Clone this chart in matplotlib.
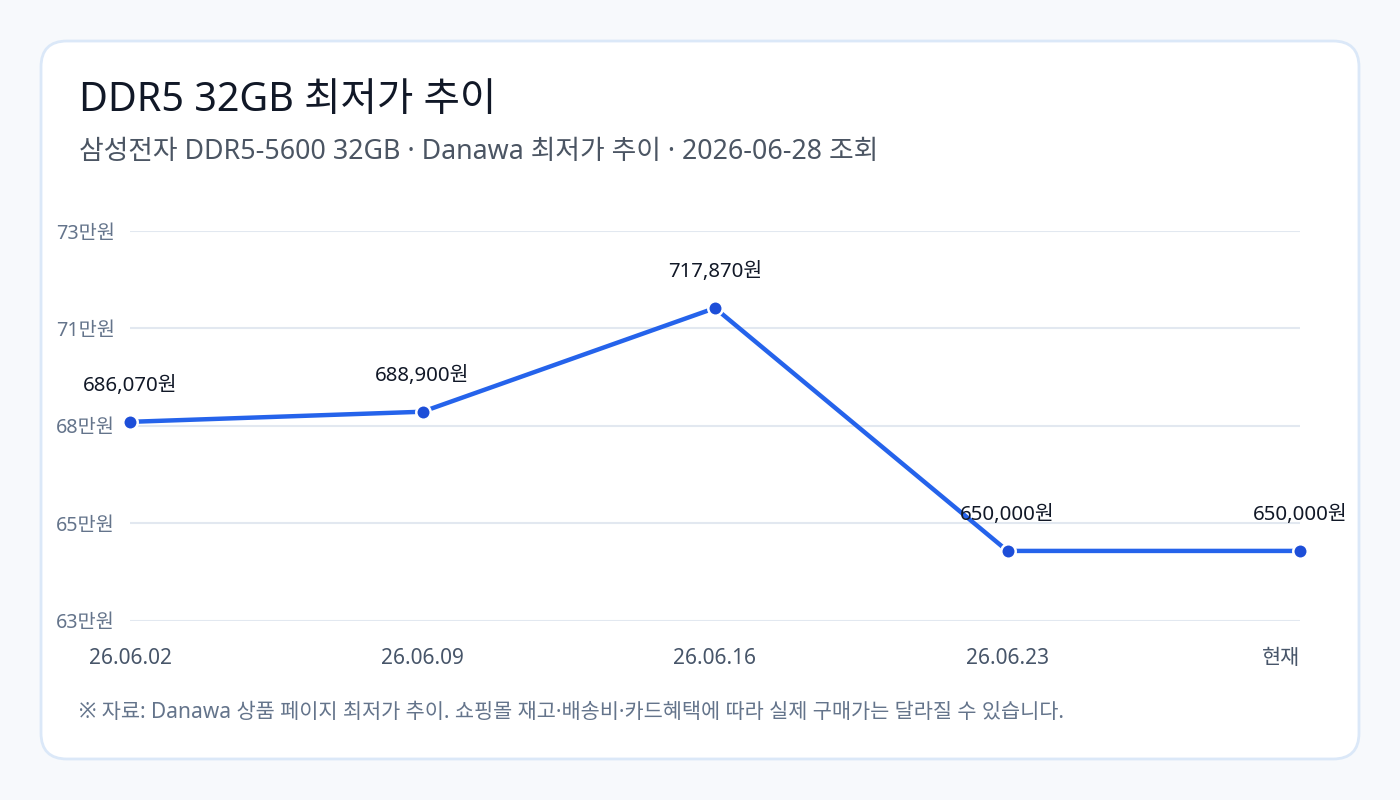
import numpy as np
import matplotlib
matplotlib.use("Agg")
import matplotlib.pyplot as plt
from matplotlib.patches import FancyBboxPatch

plt.rcParams['font.family'] = ['Noto Sans', 'Noto Sans CJK KR', 'DejaVu Sans']

# ---- data ----
dates = ["26.06.02", "26.06.09", "26.06.16", "26.06.23", "현재"]
prices = [686070, 688900, 717870, 650000, 650000]
title = "DDR5 32GB 최저가 추이"
subtitle = "삼성전자 DDR5-5600 32GB · Danawa 최저가 추이 · 2026-06-28 조회"
footnote = "※ 자료: Danawa 상품 페이지 최저가 추이. 쇼핑몰 재고·배송비·카드혜택에 따라 실제 구매가는 달라질 수 있습니다."

W, H = 1400, 800
fig = plt.figure(figsize=(W / 100, H / 100), dpi=100)
fig.patch.set_facecolor("#f7f9fc")

# background card in pixel coordinates
bg = fig.add_axes([0, 0, 1, 1], zorder=0)
bg.set_xlim(0, W)
bg.set_ylim(H, 0)
bg.axis("off")
card = FancyBboxPatch((41, 41), 1318, 718, boxstyle="round,pad=0,rounding_size=26",
                      facecolor="white", edgecolor="#dbe8f8", linewidth=2)
bg.add_patch(card)
bg.text(79, 101, title, fontsize=28.5, color="#111827", va="center", ha="left")
bg.text(79, 152, subtitle, fontsize=19.3, color="#4b5563", va="center", ha="left")
bg.text(79, 713, footnote, fontsize=15, color="#64748b", va="center", ha="left")

# ---- chart ----
ax = fig.add_axes([130 / W, 1 - 620.7 / H, (1300 - 130) / W, (620.7 - 231) / H], zorder=1)
ax.patch.set_alpha(0)
x = np.arange(len(prices))
lo, hi = min(prices) * 0.97, max(prices) * 1.03
ax.set_xlim(0, len(prices) - 1)
ax.set_ylim(lo, hi)

yt = np.linspace(lo, hi, 5)
ax.set_yticks(yt)
ax.set_yticklabels([f"{int(np.floor(v / 10000))}만원" for v in yt])
ax.grid(axis="y", color="#e2e8f0", linewidth=1.5)
ax.set_axisbelow(True)
for s in ax.spines.values():
    s.set_visible(False)

ax.set_xticks(x)
ax.set_xticklabels(dates)
xl = ax.get_xticklabels()
xl[-1].set_horizontalalignment("right")
ax.tick_params(axis="x", length=0, pad=19.5, labelsize=15, labelcolor="#475569")
ax.tick_params(axis="y", length=0, pad=11, labelsize=14.2, labelcolor="#64748b")

ax.plot(x, prices, color="#2563eb", linewidth=3.2, solid_capstyle="butt", zorder=3, clip_on=False)
ax.plot(x, prices, linestyle="none", marker="o", markersize=10.4, markerfacecolor="#1d4ed8",
        markeredgecolor="white", markeredgewidth=1.8, zorder=4, clip_on=False)

for xi, p in zip(x, prices):
    ax.annotate(f"{p:,}원", (xi, p), xytext=(0, 26), textcoords="offset points",
                ha="center", va="center", fontsize=14.7, color="#111827", zorder=5,
                annotation_clip=False)

fig.savefig("out.png", dpi=100, facecolor=fig.get_facecolor())
